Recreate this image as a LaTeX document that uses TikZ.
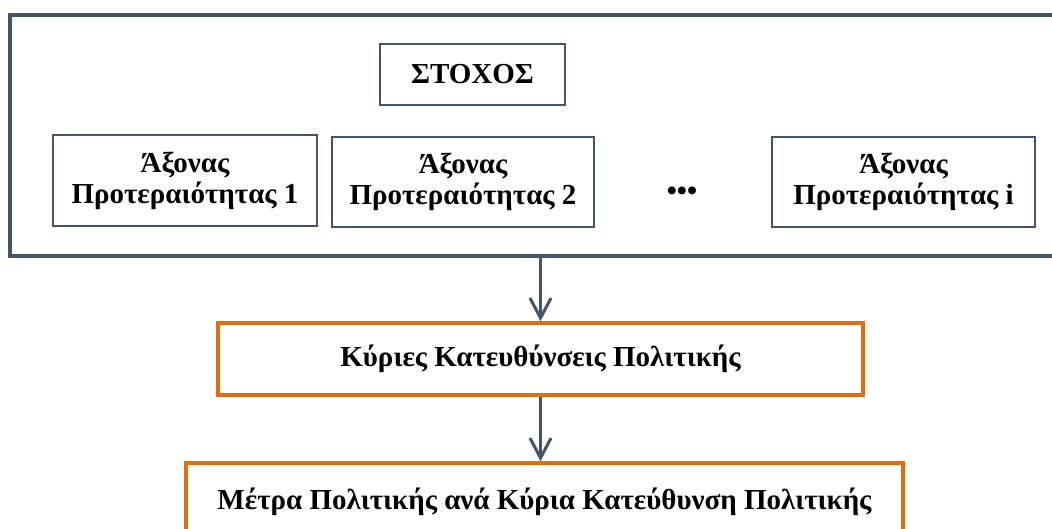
\documentclass[tikz,border=0pt]{standalone}
\usepackage{fontspec}
\setmainfont{Liberation Serif}
\usetikzlibrary{arrows.meta}
\definecolor{slate}{HTML}{44546A}
\definecolor{orng}{HTML}{E46C0A}
\tikzset{
  txt/.style={font=\bfseries\fontsize{29}{31}\selectfont, text=black, align=center, inner sep=0pt},
  outerbox/.style={draw=slate, line width=3.5pt, inner sep=0pt},
  sbox/.style={draw=slate, line width=2pt, fill=white, txt},
  obox/.style={draw=orng, line width=3.5pt, fill=white, txt},
  arr/.style={draw=slate, line width=3pt, -{Straight Barb[length=20pt,width=21pt]}},
}
\begin{document}
\begin{tikzpicture}[x=1pt,y=-1pt]
\useasboundingbox (0,0) rectangle (1052,529);
\clip (0,0) rectangle (1052,529);
\node[outerbox, minimum width=1062pt, minimum height=241pt] (outer) at (541,135.5) {};
\node[sbox, minimum width=185pt, minimum height=61pt] (goal) at (472.5,74.5) {ΣΤΟΧΟΣ};
\node[sbox, minimum width=264pt, minimum height=91pt] (ax1) at (185,180.5) {Άξονας\\Προτεραιότητας 1};
\node[sbox, minimum width=262pt, minimum height=90pt] (ax2) at (463,182) {Άξονας\\Προτεραιότητας 2};
\node[txt] (dots) at (682,194) {•••};
\node[sbox, minimum width=263pt, minimum height=90pt] (axi) at (903.5,182) {Άξονας\\Προτεραιότητας i};
\node[obox, minimum width=645pt, minimum height=72pt] (kd) at (540.5,359) {Κύριες Κατευθύνσεις Πολιτικής};
\node[obox, minimum width=717pt, minimum height=78pt] (mp) at (544.5,502) {Μέτρα Πολιτικής ανά Κύρια Κατεύθυνση Πολιτικής};
\draw[arr] (outer.south -| kd.north) -- (kd.north);
\draw[arr] (kd.south) -- (mp.north -| kd.south);
\end{tikzpicture}
\end{document}
